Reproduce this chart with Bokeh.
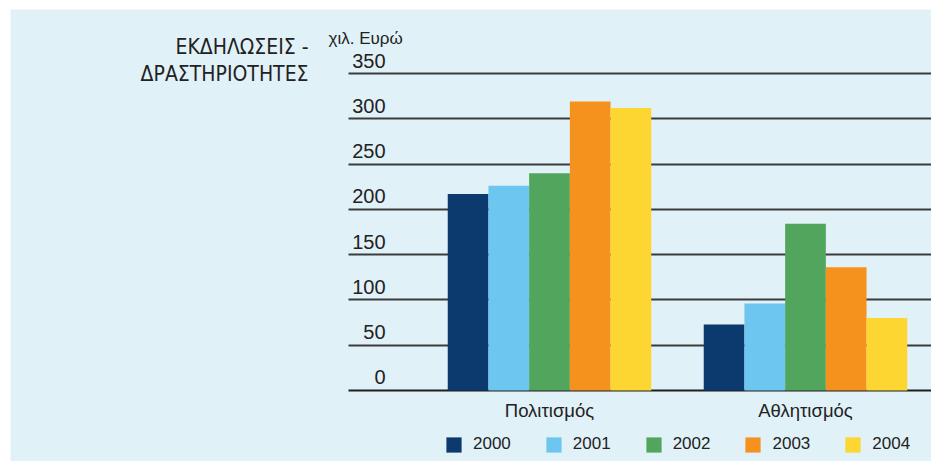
from bokeh.plotting import figure
from bokeh.models import Range1d, FixedTicker, Label, Legend, LegendItem, Grid
from bokeh.core.properties import value
from bokeh.embed import file_html
from bokeh.resources import INLINE

categories = ["Πολιτισμός", "Αθλητισμός"]
years = ["2000", "2001", "2002", "2003", "2004"]
values_2000 = [217, 73]
values_2001 = [226, 96]
values_2002 = [240, 184]
values_2003 = [319, 136]
values_2004 = [312, 80]
y_ticks = [0, 50, 100, 150, 200, 250, 300, 350]
colors = ["#0d3a6e", "#6cc6f0", "#52a55c", "#f5921e", "#fdd631"]
title_lines = ["ΕΚΔΗΛΩΣΕΙΣ -", "ΔΡΑΣΤΗΡΙΟΤΗΤΕΣ"]
unit_label = "χιλ. Ευρώ"

series = [values_2000, values_2001, values_2002, values_2003, values_2004]

W, H = 931, 461
BG = "#e1f1f8"
TXT = "#222222"
FONT = "Liberation Sans"
TITLE_FONT = "'Noto Sans Condensed', 'DejaVu Sans Condensed', sans-serif"
x_start, x_end = -2.1055, 1.4922
grid_start = -0.785

p = figure(width=W, height=H, output_backend="svg", toolbar_location=None,
           x_range=Range1d(x_start, x_end), y_range=Range1d(-78.4, 420.7),
           x_axis_type=None, y_axis_type=None,
           min_border_left=10, min_border_right=0, min_border_top=9, min_border_bottom=0,
           background_fill_color=BG, border_fill_color="white", outline_line_color=None)

p.add_layout(Grid(dimension=1, ticker=FixedTicker(ticks=y_ticks[1:]),
                  cross_bounds=(grid_start, x_end),
                  grid_line_color="#3c3c3c", grid_line_width=2))
p.add_layout(Grid(dimension=1, ticker=FixedTicker(ticks=y_ticks[:1]),
                  cross_bounds=(grid_start, x_end),
                  grid_line_color="#1e1e1e", grid_line_width=2))

# y tick labels above gridlines
p.text(x=[grid_start] * len(y_ticks), y=y_ticks, text=[str(t) for t in y_ticks],
       x_offset=37, y_offset=-6, text_align="right", text_baseline="bottom",
       text_font=value(FONT), text_font_size="20px", text_color=TXT)

n = len(years)
bw = 0.159
items = []
for k, (yr, vals, col) in enumerate(zip(years, series, colors)):
    off = (k - (n - 1) / 2) * bw
    xs = [i + off for i in range(len(categories))]
    r = p.vbar(x=xs, top=vals, bottom=0, width=bw, fill_color=col, line_color=None)
    items.append(LegendItem(label=yr, renderers=[r]))

# category labels
p.text(x=list(range(len(categories))), y=[0] * len(categories), text=categories,
       y_offset=20, text_align="center", text_baseline="middle",
       text_font=value(FONT), text_font_size="18.5px", text_color=TXT)

legend = Legend(items=items, orientation="horizontal", location=(434, 7),
                padding=0, margin=0, border_line_color=None, background_fill_alpha=0,
                glyph_width=19, glyph_height=19, label_standoff=10, spacing=33,
                label_text_font=FONT, label_text_font_size="17px",
                label_text_color=TXT, label_height=19)
p.add_layout(legend, "center")

p.add_layout(Label(x=298, y=415, x_units="screen", y_units="screen", text=title_lines[0],
                   text_align="right", text_baseline="alphabetic",
                   text_font=TITLE_FONT, text_font_size="21px", text_color=TXT))
p.add_layout(Label(x=298, y=388, x_units="screen", y_units="screen", text=title_lines[1],
                   text_align="right", text_baseline="alphabetic",
                   text_font=TITLE_FONT, text_font_size="21px", text_color=TXT))
p.add_layout(Label(x=318, y=423, x_units="screen", y_units="screen", text=unit_label,
                   text_align="left", text_baseline="alphabetic",
                   text_font=FONT, text_font_size="17px", text_color=TXT))

open("out.html", "w").write(file_html(p, INLINE))
